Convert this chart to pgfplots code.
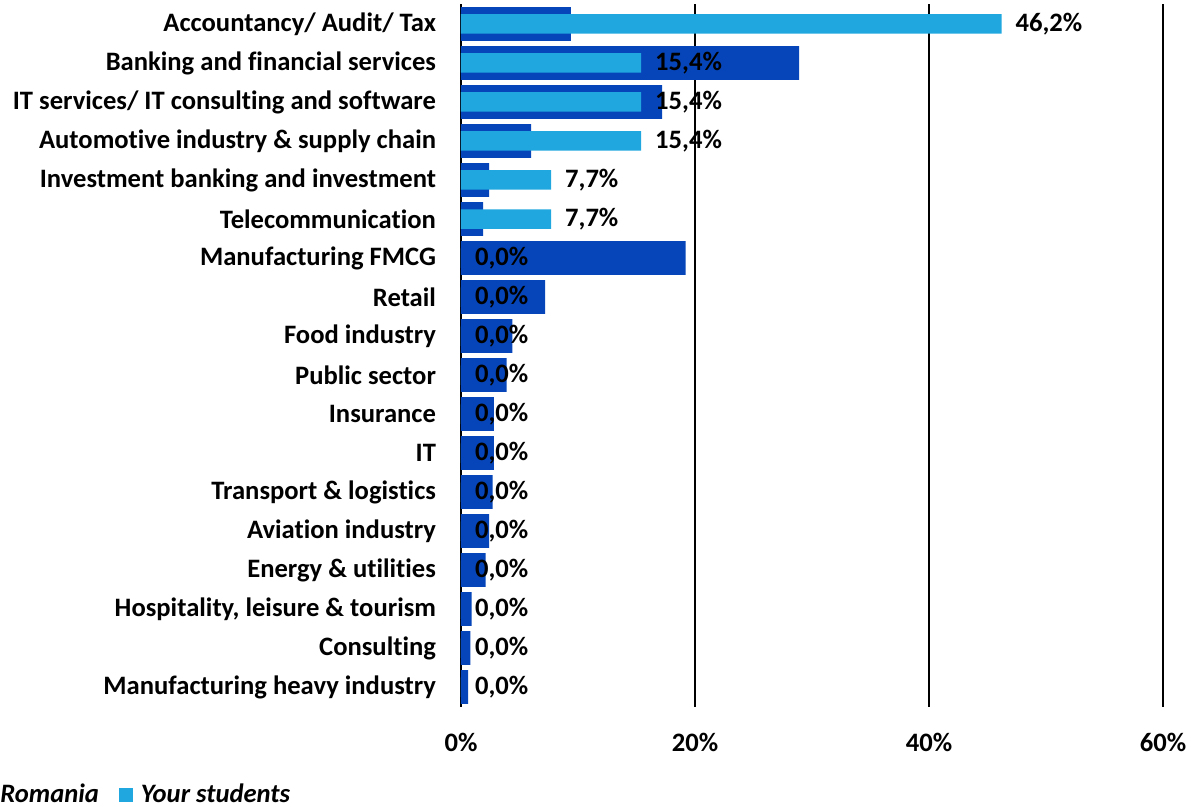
\documentclass[border=0pt]{standalone}
\usepackage{fontspec}
\setmainfont{Carlito}[Ligatures=NoCommon]
\usepackage{pgfplots}
\pgfplotsset{compat=1.18}
\definecolor{romania}{HTML}{0645B9}
\definecolor{students}{HTML}{20A7DF}
\begin{document}
\begin{tikzpicture}[font=\fontsize{13.3}{15}\selectfont\bfseries]
\begin{axis}[
  at={(0,0)}, anchor=south west,
  scale only axis, width=351pt, height=351pt,
  xbar, bar shift=0pt,
  xmin=0, xmax=60, ymin=-0.5, ymax=17.5, y dir=reverse,
  axis y line*=left, axis x line*=bottom,
  axis line style={-, black, line width=0.9pt},
  x axis line style={draw=none},
  major tick length=0pt,
  xtick={0,20,40,60},
  xticklabel={\pgfmathprintnumber{\tick}\%},
  xticklabel style={yshift=-10pt},
  /pgf/number format/assume math mode=true,
  xmajorgrids, grid style={black, line width=0.9pt},
  ytick={0,...,17},
  yticklabels={Accountancy/ Audit/ Tax, Banking and financial services,
    IT services/ IT consulting and software, Automotive industry \& supply chain,
    Investment banking and investment, Telecommunication, Manufacturing FMCG,
    Retail, Food industry, Public sector, Insurance, IT, Transport \& logistics,
    Aviation industry, Energy \& utilities, {Hospitality, leisure \& tourism},
    Consulting, Manufacturing heavy industry},
  yticklabel style={anchor=east, xshift=-9pt},
  legend style={at={(-0.671,-0.1261)}, anchor=west, draw=none, fill=none,
    legend columns=2, font=\fontsize{13.3}{15}\selectfont\bfseries\itshape,
    /tikz/every even column/.style={column sep=8pt}},
]
\addplot[fill=romania, draw=none, bar width=0.87, bar shift=0pt,
  legend image code/.code={}]
coordinates {
(9.4,0) (28.9,1) (17.2,2) (6.0,3) (2.4,4) (1.9,5) (19.2,6) (7.2,7) (4.4,8)
(3.9,9) (2.8,10) (2.8,11) (2.7,12) (2.4,13) (2.1,14) (0.9,15) (0.8,16) (0.6,17)
};
\addlegendentry{Romania}
\addplot[fill=students, draw=none, bar width=0.5, bar shift=0pt,
  legend image code/.code={\fill[students] (0pt,-3.5pt) rectangle (7pt,3.5pt);
    \path (9pt,0pt);},
  nodes near coords={\pgfmathprintnumber[fixed, fixed zerofill, precision=1, use comma]{\pgfplotspointmeta}\%},
  nodes near coords style={anchor=west, xshift=3.5pt, black, font=\fontsize{13.3}{15}\selectfont\bfseries}]
coordinates {
(46.2,0) (15.4,1) (15.4,2) (15.4,3) (7.7,4) (7.7,5) (0,6) (0,7) (0,8)
(0,9) (0,10) (0,11) (0,12) (0,13) (0,14) (0,15) (0,16) (0,17)
};
\addlegendentry{Your students}
\end{axis}
\pgfresetboundingbox
\path[use as bounding box] (-230.5pt,-50.25pt) rectangle (365.5pt,353.25pt);
\end{tikzpicture}
\end{document}
